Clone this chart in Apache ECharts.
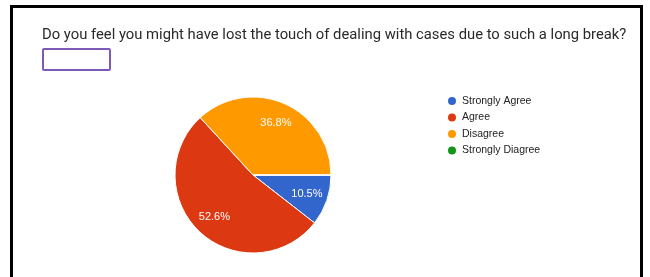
<!DOCTYPE html>
<html>
<head>
<meta charset="utf-8">
<script src="https://cdn.jsdelivr.net/npm/echarts@6/dist/echarts.min.js"></script>
<style>
  html, body { margin: 0; padding: 0; background: #fff; }
  #chart { width: 650px; height: 277px; }
</style>
</head>
<body>
<div id="chart"></div>
<script>
var question = 'Do you feel you might have lost the touch of dealing with cases due to such a long break?'
var answers = ['Strongly Agree', 'Agree', 'Disagree', 'Strongly Diagree']
var counts = [2, 10, 7, 0]
var colors = ['#3366cc', '#dc3912', '#ff9900', '#109618']

var myChart = echarts.init(document.getElementById('chart'))

var pieData = answers.map(function (name, i) { return { name: name, value: counts[i] } })

var option = {
  color: colors,
  animation: false,
  title: {
    text: question,
    left: 42,
    top: 28,
    padding: 0,
    textStyle: {
      fontFamily: 'Roboto',
      fontSize: 14.8,
      fontWeight: 'normal',
      color: '#2a2a2a'
    }
  },
  legend: {
    orient: 'vertical',
    left: 446,
    top: 95,
    padding: 0,
    icon: 'circle',
    itemWidth: 10,
    itemHeight: 10,
    itemGap: 4.5,
    data: answers,
    textStyle: {
      fontFamily: 'Arial',
      fontSize: 10.5,
      lineHeight: 12,
      color: '#222'
    }
  },
  graphic: [
    // frame round the card
    { type: 'rect', shape: { x: 10, y: 5, width: 3, height: 280 }, style: { fill: '#000' } },
    { type: 'rect', shape: { x: 10, y: 5, width: 633, height: 3 }, style: { fill: '#000' } },
    { type: 'rect', shape: { x: 640, y: 5, width: 3, height: 280 }, style: { fill: '#000' } },
    // empty answer box under the question
    { type: 'rect', shape: { x: 43, y: 49, width: 67, height: 21, r: 1 },
      style: { fill: '#fff', stroke: '#7e5ab8', lineWidth: 2 } }
  ],
  series: [
    {
      type: 'pie',
      radius: 78,
      center: [253, 175],
      startAngle: 0,
      clockwise: true,
      data: pieData,
      itemStyle: { borderColor: '#fff', borderWidth: 1 },
      label: { show: false },
      labelLine: { show: false },
      emphasis: { disabled: true }
    },
    // same slices again, only to put the percent labels further out
    {
      type: 'pie',
      radius: [30, 78],
      center: [253, 175],
      startAngle: 0,
      clockwise: true,
      silent: true,
      data: pieData,
      itemStyle: { color: 'rgba(0,0,0,0)' },
      label: {
        show: true,
        position: 'inside',
        color: '#fff',
        fontFamily: 'Arial',
        fontSize: 11,
        formatter: function (p) {
          return p.value ? p.percent.toFixed(1) + '%' : ''
        }
      },
      labelLine: { show: false },
      emphasis: { disabled: true }
    }
  ]
}
myChart.setOption(option)
</script>
</body>
</html>
